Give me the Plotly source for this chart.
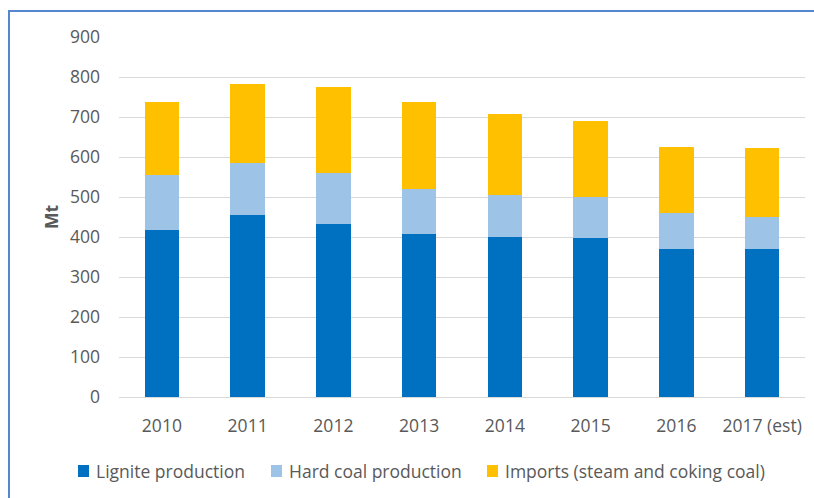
import plotly.graph_objects as go

years = ["2010", "2011", "2012", "2013", "2014", "2015", "2016", "2017 (est)"]
lignite = [417, 455, 432, 407, 401, 397, 369, 369]
hard_coal = [138, 129, 129, 112, 104, 102, 90, 80]
imports = [183, 198, 215, 219, 202, 191, 167, 173]

series_names = ["Lignite production", "Hard coal production", "Imports (steam and coking coal)"]
series_colors = ["#0070C0", "#9DC3E6", "#FFC000"]
y_ticks = [0, 100, 200, 300, 400, 500, 600, 700, 800, 900]

FONT = "Open Sans"
GREY = "#595959"
FS = 17.5

# plot-area geometry in pixels (layout only)
PL, PR, PT, PB = 119, 805, 37, 397
W, H = 814, 498
PW, PH = PR - PL, PB - PT


def px(x):
    return (x - PL) / PW


def py(y):
    return (PB - y) / PH


fig = go.Figure()
for name, vals, col in zip(series_names, [lignite, hard_coal, imports], series_colors):
    fig.add_trace(go.Bar(x=years, y=vals, name=name, marker=dict(color=col, line=dict(width=0))))

fig.update_layout(
    barmode="stack",
    bargap=0.6,
    width=W, height=H,
    margin=dict(l=PL, r=W - PR, t=PT, b=H - PB, autoexpand=False),
    paper_bgcolor="white", plot_bgcolor="white",
    font=dict(family=FONT, size=FS, color=GREY),
    showlegend=False,
    xaxis=dict(showgrid=False, showline=False, ticks="", automargin=False,
               ticklabelstandoff=16, tickfont=dict(size=FS, color=GREY)),
    yaxis=dict(range=[0, 900], tickvals=y_ticks, showgrid=True, gridcolor="#D9D9D9", gridwidth=1,
               zeroline=True, zerolinecolor="#D9D9D9", zerolinewidth=1, automargin=False,
               ticks="", ticklabelstandoff=18, tickfont=dict(size=FS, color=GREY),
               title=dict(text="<b>Mt</b>", font=dict(size=FS, color=GREY), standoff=6)),
)

# chart frame (blue border, cropped on right and bottom)
fig.add_shape(type="rect", xref="paper", yref="paper",
              x0=px(9), x1=px(W + 20), y0=py(H + 20), y1=py(11),
              line=dict(color="#5587CE", width=2), fillcolor="rgba(0,0,0,0)", layer="above")

# legend drawn below the plot
sq_left = [78, 271, 487]
txt_left = [94, 287, 503]
leg_y = 471
for name, col, sx, tx in zip(series_names, series_colors, sq_left, txt_left):
    fig.add_shape(type="rect", xref="paper", yref="paper",
                  x0=px(sx), x1=px(sx + 11), y0=py(leg_y + 6), y1=py(leg_y - 6),
                  line=dict(width=0), fillcolor=col)
    fig.add_annotation(xref="paper", yref="paper", x=px(tx), y=py(leg_y),
                       xanchor="left", yanchor="middle", showarrow=False,
                       text=name, font=dict(family=FONT, size=FS, color=GREY))

fig.write_html(
    "out.html",
    config={"displayModeBar": False},
    post_script="document.body.style.margin='0';document.body.style.overflow='hidden';",
)
